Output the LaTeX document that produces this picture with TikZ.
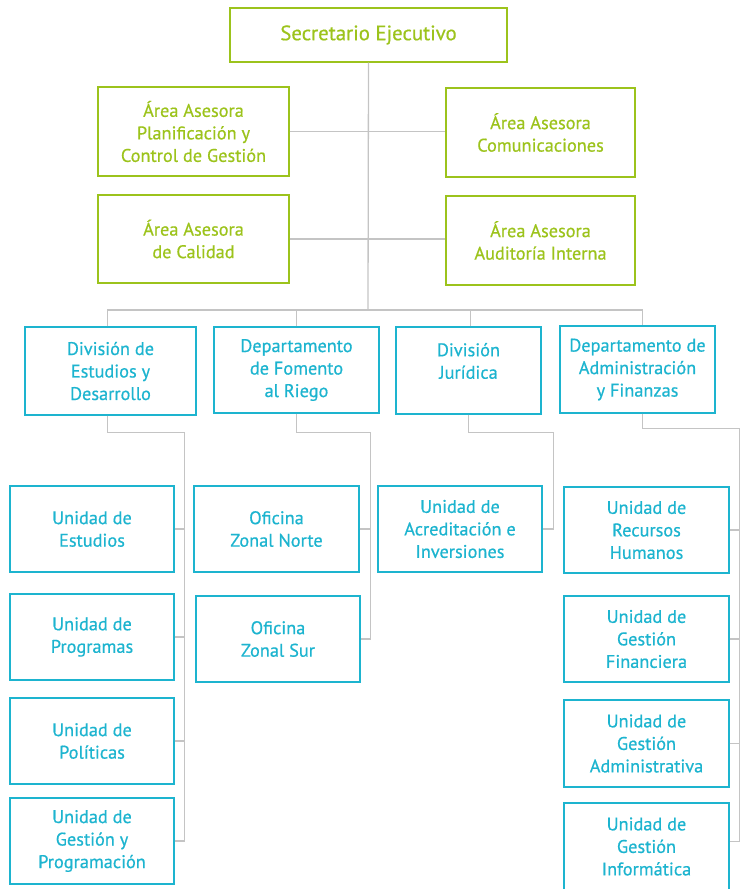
\documentclass[tikz,border=0pt]{standalone}
\usepackage{fontspec}
\setmainfont{PT Sans}[FakeBold=0.6]
\definecolor{grn}{HTML}{9CC31C}
\definecolor{cyn}{HTML}{1DB4CF}
\definecolor{lgr}{HTML}{C4C4C4}
\newcommand\bx[7]{\node[#6, minimum width={#4pt-#2pt}, minimum height={#5pt-#3pt}] (#1) at ({(#2+#4)/2},{(#3+#5)/2}) {#7};}
\tikzset{
  gbox/.style={draw=grn, line width=1.4pt, text=grn, align=center, inner sep=0pt, font=\fontsize{18.3}{22.5}\selectfont},
  cbox/.style={draw=cyn, line width=1.4pt, text=cyn, align=center, inner sep=0pt, font=\fontsize{18.3}{22.5}\selectfont},
  conn/.style={draw=lgr, line width=1.3pt},
}
\begin{document}
\begin{tikzpicture}[x=1pt,y=-1pt]
\useasboundingbox (0,0) rectangle (741,889);
% top
\bx{sec}{230}{8}{507}{62}{gbox,font=\fontsize{20.8}{26}\selectfont}{Secretario Ejecutivo}
\bx{a1}{98}{87}{289}{176}{gbox}{Área Asesora\\Planificación y\\Control de Gestión}
\bx{a2}{446}{88}{635}{177}{gbox}{Área Asesora\\Comunicaciones}
\bx{a3}{98}{195}{289}{283}{gbox}{Área Asesora\\de Calidad}
\bx{a4}{446}{196}{635}{285}{gbox}{Área Asesora\\Auditoría Interna}
% divisions
\bx{d1}{25}{327}{196}{415}{cbox}{División de\\Estudios y\\Desarrollo}
\bx{d2}{214}{327}{379}{413}{cbox}{Departamento\\de Fomento\\al Riego}
\bx{d3}{396}{327}{541}{414}{cbox}{División\\Jurídica\\[-10pt]\strut}
\bx{d4}{560}{326}{715}{413}{cbox}{Departamento de\\Administración\\y Finanzas}
% units left
\bx{u1}{10}{486}{174}{572}{cbox}{Unidad de\\Estudios}
\bx{u2}{10}{594}{174}{680}{cbox}{Unidad de\\Programas}
\bx{u3}{10}{698}{174}{784}{cbox}{Unidad de\\Políticas}
\bx{u4}{10}{798}{174}{884}{cbox}{Unidad de\\Gestión y\\Programación}
% oficinas
\bx{o1}{194}{486}{359}{572}{cbox}{Oficina\\Zonal Norte}
\bx{o2}{196}{596}{360}{682}{cbox}{Oficina\\Zonal Sur}
% juridica
\bx{ac}{378}{486}{542}{572}{cbox}{Unidad de\\Acreditación e\\Inversiones}
% right
\bx{r1}{564}{487}{729}{573}{cbox}{Unidad de\\Recursos\\Humanos}
\bx{r2}{564}{596}{729}{682}{cbox}{Unidad de\\Gestión\\Financiera}
\bx{r3}{564}{700}{729}{787}{cbox}{Unidad de\\Gestión\\Administrativa}
\bx{r4}{564}{803}{729}{890}{cbox}{Unidad de\\Gestión\\Informática}
% connectors
\coordinate (bus) at (368,310);
\draw[conn] (sec.south) -- (bus);
\draw[conn] (a1.east) -- (a1.east -| a2.west);
\draw[conn] (a3.east) -- (a3.east -| a4.west);
\draw[conn] ([xshift=-3pt]d1.north) -- ([xshift=-3pt]d1.north |- bus) -- ([xshift=5pt]d4.north |- bus) -- ([xshift=5pt]d4.north);
\draw[conn] (d2.north) -- (d2.north |- bus);
\draw[conn] ([xshift=2pt]d3.north) -- ([xshift=2pt]d3.north |- bus);
\draw[conn] ([xshift=-3pt]d1.south) -- ++(0,17) -| ([xshift=10pt]u4.east) -- (u4.east);
\foreach \n in {u1,u2,u3} \draw[conn] (\n.east) -- ++(10,0);
\draw[conn] (d2.south) -- ++(0,19) -| ([xshift=10pt]o2.east) -- (o2.east);
\draw[conn] (o1.east) -- ++(11,0);
\draw[conn] (d3.south) -- ++(0,18) -| ([xshift=11pt]ac.east) -- (ac.east);
\draw[conn] ([xshift=5pt]d4.south) -- ++(0,15) -| ([xshift=10pt,yshift=5pt]r4.east) -- ([yshift=5pt]r4.east);
\foreach \n in {r1,r2,r3} \draw[conn] (\n.east) -- ++(10,0);
\end{tikzpicture}
\end{document}
